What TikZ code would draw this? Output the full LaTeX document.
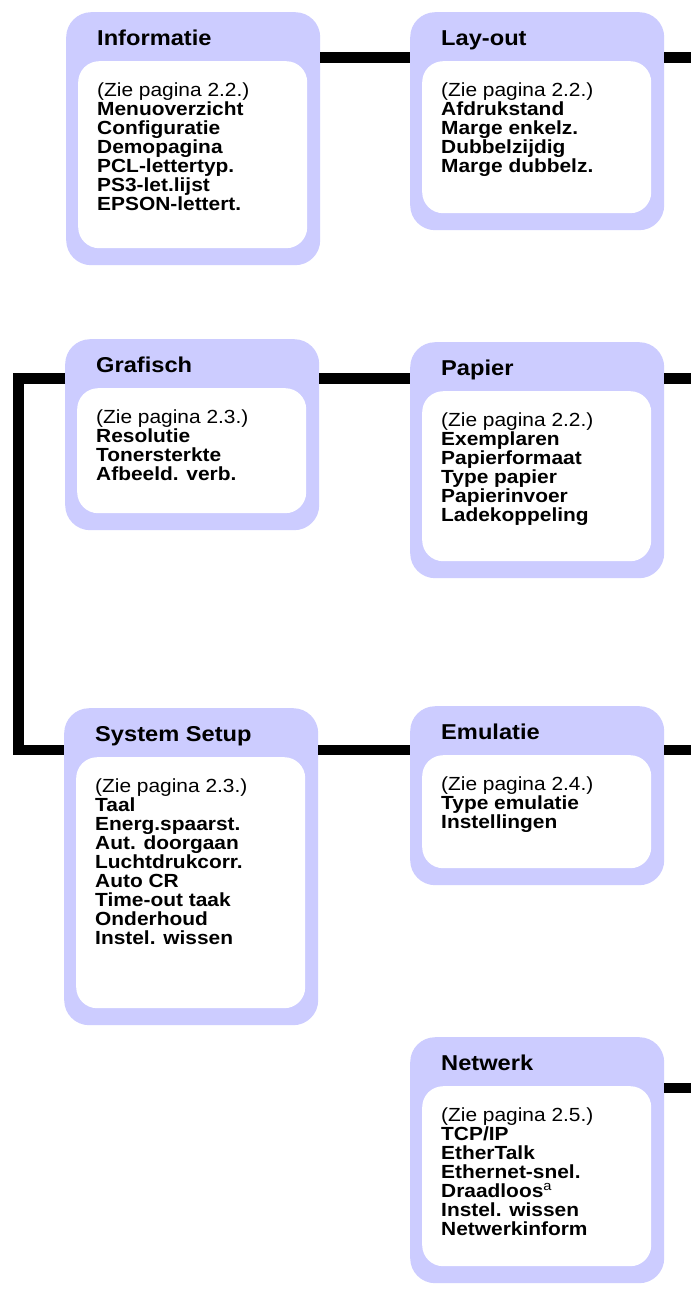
\documentclass[tikz,border=0pt]{standalone}
\usepackage{fontspec}
\setmainfont{Liberation Sans}[FakeStretch=1.1]
\definecolor{lav}{HTML}{CCCCFF}
\tikzset{
 outerbox/.style={draw=none, fill=lav, rounded corners=25pt, minimum width=254pt, inner sep=0pt, anchor=north west},
 innerbox/.style={draw=none, fill=white, rounded corners=21pt, minimum width=229pt, inner sep=0pt, anchor=north west},
 titletext/.style={inner sep=0pt, anchor=base west, font=\fontsize{21.5}{24}\selectfont\bfseries},
 bodytext/.style={inner sep=0pt, anchor=base west, font=\fontsize{19}{19}\selectfont},
 bar/.style={line width=10.5pt, line cap=butt, line join=miter},
}
\newcommand{\rl}[1]{\hbox{#1}}
\newcommand{\bl}[1]{\hbox{\bfseries #1}}
% #1 name, #2 left, #3 top, #4 bottom, #5 title, #6 body lines
\newcommand{\menuBox}[6]{%
 \node[outerbox, minimum height={#4pt-#3pt}] (#1) at (#2pt,-#3pt) {};
 \node[innerbox, minimum height={#4pt-#3pt-66pt}] (#1-in) at ({#2pt+12pt},{-#3pt-49pt}) {};
 \node[titletext] (#1-t) at ({#2pt+31pt},{-#3pt-33.5pt}) {#5};
 \node[bodytext] (#1-b) at ({#2pt+31pt},{-#3pt-84pt}) {\vtop{\baselineskip=19pt\lineskiplimit=-100pt\lineskip=0pt #6}};
}
\begin{document}
\begin{tikzpicture}
\fill[white] (0,0) rectangle (691pt,-1290pt);
\useasboundingbox (0,0) rectangle (691pt,-1290pt);

\menuBox{info}{66}{12}{265}{Informatie}{\rl{(Zie pagina 2.2.)}\bl{Menuoverzicht}\bl{Configuratie}\bl{Demopagina}\bl{PCL-lettertyp.}\bl{PS3-let.lijst}\bl{EPSON-lettert.}}
\menuBox{layout}{410}{12}{230}{Lay-out}{\rl{(Zie pagina 2.2.)}\bl{Afdrukstand}\bl{Marge enkelz.}\bl{Dubbelzijdig}\bl{Marge dubbelz.}}
\menuBox{graf}{65}{339}{530}{Grafisch}{\rl{(Zie pagina 2.3.)}\bl{Resolutie}\bl{Tonersterkte}\bl{Afbeeld. verb.}}
\menuBox{papier}{410}{342}{578}{Papier}{\rl{(Zie pagina 2.2.)}\bl{Exemplaren}\bl{Papierformaat}\bl{Type papier}\bl{Papierinvoer}\bl{Ladekoppeling}}
\menuBox{sys}{64}{708}{1025}{System Setup}{\rl{(Zie pagina 2.3.)}\bl{Taal}\bl{Energ.spaarst.}\bl{Aut. doorgaan}\bl{Luchtdrukcorr.}\bl{Auto CR}\bl{Time-out taak}\bl{Onderhoud}\bl{Instel. wissen}}
\menuBox{emu}{410}{706}{885}{Emulatie}{\rl{(Zie pagina 2.4.)}\bl{Type emulatie}\bl{Instellingen}}
\menuBox{net}{410}{1037}{1283}{Netwerk}{\rl{(Zie pagina 2.5.)}\bl{TCP/IP}\bl{EtherTalk}\bl{Ethernet-snel.}\rl{\bfseries Draadloos\mdseries\textsuperscript{a}}\bl{Instel. wissen}\bl{Netwerkinform}}

\coordinate (edge) at (691pt,0);
\coordinate (r1) at (0,-57.5pt);
\coordinate (r2) at (0,-378.5pt);
\coordinate (r3) at (0,-750pt);
\coordinate (r4) at (0,-1088pt);
\coordinate (lefttop) at (18.7pt,-378.5pt);
\coordinate (leftbot) at (18.7pt,-750pt);

\draw[bar] (info.east |- r1) -- (layout.west |- r1);
\draw[bar] (layout.east |- r1) -- (edge |- r1);
\draw[bar] (graf.west |- r2) -- (lefttop) -- (leftbot) -- (sys.west |- r3);
\draw[bar] (graf.east |- r2) -- (papier.west |- r2);
\draw[bar] (papier.east |- r2) -- (edge |- r2);
\draw[bar] (sys.east |- r3) -- (emu.west |- r3);
\draw[bar] (emu.east |- r3) -- (edge |- r3);
\draw[bar] (net.east |- r4) -- (edge |- r4);
\end{tikzpicture}
\end{document}
